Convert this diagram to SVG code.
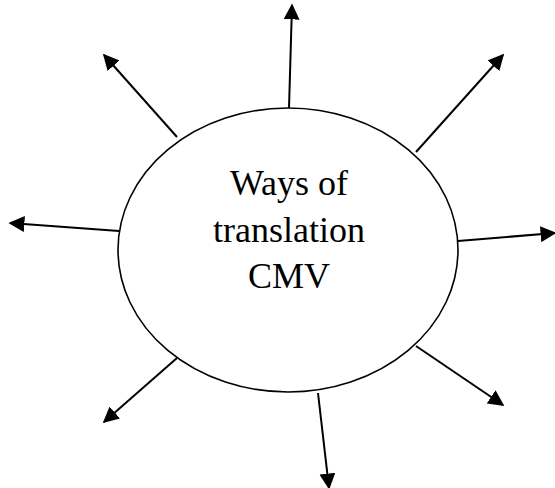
<svg xmlns="http://www.w3.org/2000/svg" width="555" height="488" viewBox="0 0 555 488">
<style>
.ln{stroke:#000;stroke-width:2;fill:none}
.t{font-family:"Liberation Serif",serif;font-size:36px;fill:#000;text-anchor:middle}
</style>
<defs>
<marker id="ah" viewBox="0 0 10 10" refX="9" refY="5" markerWidth="8" markerHeight="8" markerUnits="strokeWidth" orient="auto">
<path d="M0,0 L10,5 L0,10 z" fill="#000"/>
</marker>
</defs>
<rect width="555" height="488" fill="#fff"/>
<g id="center">
<ellipse cx="288" cy="250" rx="170" ry="142" fill="#fff" stroke="#000" stroke-width="1.6"/>
<text class="t" x="289" y="195">Ways of</text>
<text class="t" x="289" y="242">translation</text>
<text class="t" x="289" y="288">CMV</text>
</g>
<g id="connectors">
<line class="ln" x1="289" y1="108" x2="292" y2="5" marker-end="url(#ah)"/>
<line class="ln" x1="177" y1="137" x2="104" y2="55" marker-end="url(#ah)"/>
<line class="ln" x1="416" y1="152" x2="503" y2="55" marker-end="url(#ah)"/>
<line class="ln" x1="119" y1="231" x2="10" y2="223" marker-end="url(#ah)"/>
<line class="ln" x1="458" y1="241" x2="555" y2="233" marker-end="url(#ah)"/>
<line class="ln" x1="177" y1="358" x2="104" y2="422" marker-end="url(#ah)"/>
<line class="ln" x1="318" y1="393" x2="329" y2="488" marker-end="url(#ah)"/>
<line class="ln" x1="416" y1="346" x2="503" y2="405" marker-end="url(#ah)"/>
</g>
</svg>
